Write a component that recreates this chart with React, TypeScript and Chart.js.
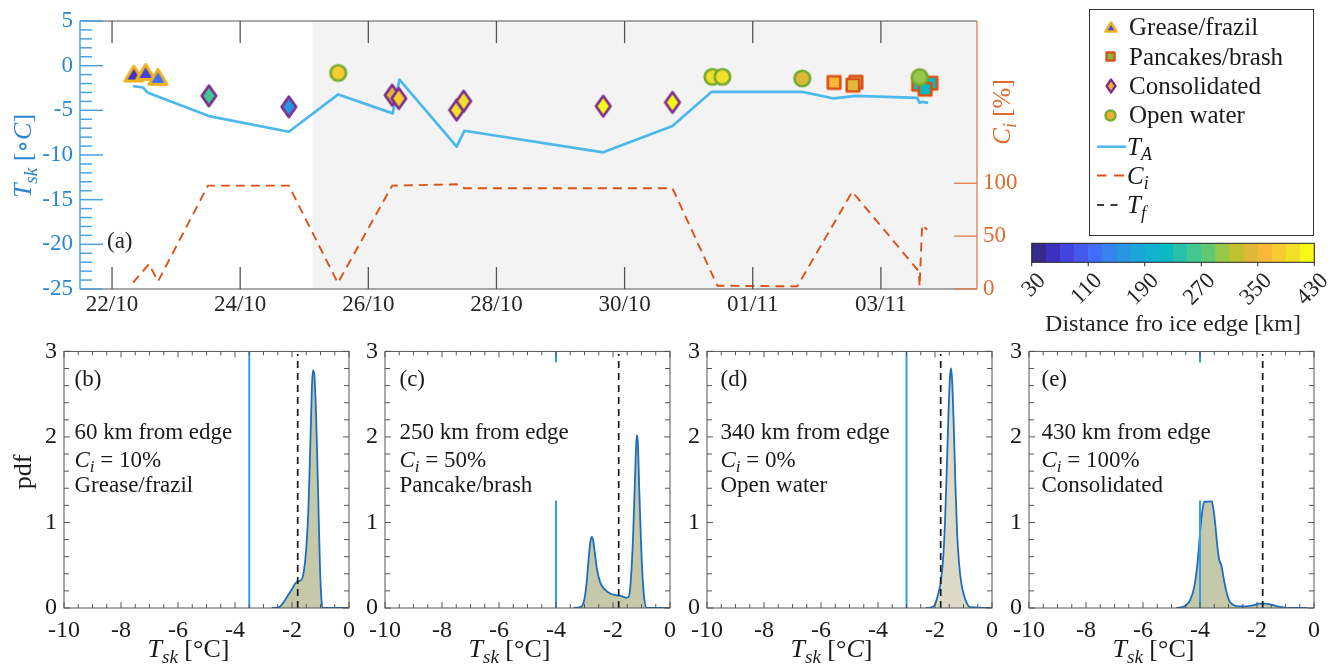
import React, { useEffect, useRef } from 'react';
import { Chart, registerables } from 'chart.js';
Chart.register(...registerables);

const SERIF = '"Liberation Serif", "DejaVu Serif", "Times New Roman", serif';

// ---------------- panel (a) data ----------------
const DATE_TICKS = [22, 24, 26, 28, 30, 32, 34];
const DATE_LABELS = ['22/10', '24/10', '26/10', '28/10', '30/10', '01/11', '03/11'];
const TSK_TICKS = [-25, -20, -15, -10, -5, 0, 5];
const CI_TICKS = [0, 50, 100];
const SHADE_START = 25.13;

const TA_DAY = [22.327, 22.483, 22.561, 23.512, 24.76, 25.53, 26.381, 26.486, 27.379, 27.499, 29.666, 30.747, 31.358, 32.773, 33.267, 33.606, 34.567, 34.604, 34.644, 34.738];
const TA_VAL = [-2.29, -2.44, -3.04, -5.64, -7.4, -3.22, -5.34, -1.55, -9.07, -7.29, -9.7, -6.76, -2.93, -2.93, -3.67, -3.38, -3.6, -4.16, -4.05, -4.16];

const CI_DAY = [22.327, 22.577, 22.717, 23.497, 24.76, 25.524, 26.372, 27.379, 27.499, 30.747, 31.448, 32.695, 33.553, 34.593, 34.604, 34.644, 34.722];
const CI_VAL = [6, 23.6, 7.2, 97.7, 97.7, 5.7, 97.7, 99, 95.3, 95.3, 3.1, 2.5, 92, 16.6, 2.5, 60.7, 56];

const GREASE_DAY = [22.34, 22.525, 22.717];
const GREASE_TSK = [-0.88, -0.7, -1.25];
const GREASE_DIST = [65, 75, 110];

const PANCAKE_DAY = [33.27, 33.61, 33.564, 34.59, 34.78, 34.69];
const PANCAKE_TSK = [-1.88, -1.85, -2.18, -2.07, -1.96, -2.63];
const PANCAKE_DIST = [360, 340, 340, 215, 215, 215];

const CONSOL_DAY = [23.512, 24.76, 26.372, 26.476, 27.379, 27.488, 29.666, 30.747];
const CONSOL_TSK = [-3.38, -4.61, -3.3, -3.67, -4.97, -3.97, -4.53, -4.11];
const CONSOL_DIST = [255, 165, 345, 375, 395, 395, 425, 425];

const OPEN_DAY = [25.53, 31.37, 31.526, 32.773, 34.606];
const OPEN_TSK = [-0.81, -1.25, -1.25, -1.43, -1.28];
const OPEN_DIST = [385, 400, 400, 340, 305];

const DIST_MIN = 30;
const DIST_MAX = 430;
const CBAR_TICKS = [30, 110, 190, 270, 350, 430];
const CBAR_COLORS = ['#352a8a', '#3b30c0', '#4343e0', '#4558f0', '#3f6ef8', '#3484f0', '#2896e0', '#1aa6d8', '#10b2d0', '#0abac0', '#28c0a8', '#40c890', '#60c870', '#98c848', '#c0c030', '#e0b838', '#f8b838', '#f8cc30', '#f0e028', '#f8f818'];

// ---------------- panels (b)-(e) data ----------------
const PDF_XTICKS = [-10, -8, -6, -4, -2, 0];
const PDF_YTICKS = [0, 1, 2, 3];
const PANEL_TAGS = ['(b)', '(c)', '(d)', '(e)'];
const PANEL_DIST_TEXT = ['60 km from edge', '250 km from edge', '340 km from edge', '430 km from edge'];
const PANEL_CI_TEXT = ['10%', '50%', '0%', '100%'];
const PANEL_TYPE = ['Grease/frazil', 'Pancake/brash', 'Open water', 'Consolidated'];
const PANEL_TA = [-3.5, -4, -3, -4];
const PANEL_TF = [-1.8, -1.8, -1.8, -1.8];

const PDF_B_X = [-2.71, -2.45, -2.27, -2.1, -2.0, -1.9, -1.81, -1.7, -1.6, -1.5, -1.42, -1.35, -1.3, -1.26, -1.21, -1.15, -1.08, -1.02, -0.97, -0.93, 0];
const PDF_B_Y = [0, 0.01, 0.08, 0.17, 0.22, 0.28, 0.31, 0.32, 0.4, 0.7, 1.2, 2.0, 2.6, 2.78, 2.7, 2.2, 1.3, 0.5, 0.12, 0, 0];
const PDF_C_X = [-3.38, -3.15, -3.02, -2.94, -2.86, -2.8, -2.75, -2.7, -2.64, -2.56, -2.45, -2.3, -2.1, -1.9, -1.7, -1.55, -1.45, -1.38, -1.3, -1.22, -1.17, -1.13, -1.08, -1.02, -0.96, -0.9, -0.82, 0];
const PDF_C_Y = [0, 0.01, 0.08, 0.25, 0.55, 0.76, 0.83, 0.8, 0.65, 0.45, 0.3, 0.22, 0.17, 0.15, 0.14, 0.12, 0.13, 0.3, 0.8, 1.6, 2.02, 1.95, 1.4, 0.8, 0.35, 0.1, 0, 0];
const PDF_D_X = [-2.33, -2.1, -2.0, -1.9, -1.8, -1.72, -1.65, -1.58, -1.52, -1.47, -1.43, -1.39, -1.34, -1.28, -1.22, -1.15, -1.08, -1.0, -0.9, -0.77, 0];
const PDF_D_Y = [0, 0.01, 0.04, 0.15, 0.3, 0.55, 1.0, 1.7, 2.35, 2.72, 2.8, 2.6, 2.1, 1.4, 0.85, 0.5, 0.3, 0.17, 0.07, 0.01, 0];
const PDF_E_X = [-4.84, -4.55, -4.35, -4.2, -4.08, -3.98, -3.9, -3.84, -3.78, -3.72, -3.66, -3.6, -3.54, -3.47, -3.4, -3.33, -3.25, -3.17, -3.08, -2.98, -2.85, -2.65, -2.4, -2.15, -1.9, -1.7, -1.5, -1.3, -1.1, -0.95, -0.23];
const PDF_E_Y = [0, 0.02, 0.09, 0.25, 0.55, 0.95, 1.18, 1.25, 1.24, 1.25, 1.24, 1.26, 1.18, 1.0, 0.75, 0.57, 0.5, 0.35, 0.2, 0.09, 0.04, 0.02, 0.02, 0.03, 0.05, 0.05, 0.04, 0.02, 0.01, 0, 0];
const PDF_X = [PDF_B_X, PDF_C_X, PDF_D_X, PDF_E_X];
const PDF_Y = [PDF_B_Y, PDF_C_Y, PDF_D_Y, PDF_E_Y];

// ---------------- styling / layout ----------------
const BLUE_TXT = '#2b86d2';
const BLUE_AX = '#4aa2e2';
const ORANGE_TXT = '#dd6a2e';
const ORANGE_AX = '#e37a45';
const TA_COLOR = '#4cb8ec';
const CI_COLOR = '#D95319';
const EDGE_TRI = '#EDB120';
const EDGE_SQ = '#D95319';
const EDGE_DIA = '#7E2F8E';
const EDGE_CIRC = '#77AC30';
const PANEL_LEFT = [64, 385, 707, 1029];
const PANEL_TXT_OFF = [10.5, 14.5, 13.5, 12.5];
const PDF_FILL = ['rgba(178,181,140,0.75)', 'rgba(178,181,140,0.75)', 'rgba(200,196,165,0.62)', 'rgba(178,181,140,0.75)'];

type Part = { t: string; it?: boolean; sub?: boolean };
function partFont(p: Part, size: number) {
  const s = p.sub ? Math.round(size * 0.72) : size;
  return `${p.it ? 'italic ' : ''}${s}px ${SERIF}`;
}
function richWidth(ctx: CanvasRenderingContext2D, parts: Part[], size: number) {
  let w = 0;
  for (const p of parts) { ctx.font = partFont(p, size); w += ctx.measureText(p.t).width; }
  return w;
}
function drawRich(ctx: CanvasRenderingContext2D, parts: Part[], x: number, y: number, size: number, align = 'left') {
  const w = richWidth(ctx, parts, size);
  let cx = align === 'center' ? x - w / 2 : align === 'right' ? x - w : x;
  ctx.textAlign = 'left';
  ctx.textBaseline = 'alphabetic';
  for (const p of parts) {
    ctx.font = partFont(p, size);
    ctx.fillText(p.t, cx, p.sub ? y + size * 0.22 : y);
    cx += ctx.measureText(p.t).width;
  }
  return w;
}

function distColor(d: number) {
  const n = CBAR_COLORS.length;
  const k = Math.max(0, Math.min(n - 1, Math.floor(((d - DIST_MIN) / (DIST_MAX - DIST_MIN)) * n)));
  return CBAR_COLORS[k];
}

function makeMarker(shape: string, fill: string, edge: string, w: number, h: number, lw: number) {
  const c = document.createElement('canvas');
  const W = Math.ceil(w + lw + 2);
  const H = Math.ceil(h + lw + 2);
  c.width = W; c.height = H;
  const g = c.getContext('2d') as CanvasRenderingContext2D;
  const cx = W / 2, cy = H / 2;
  g.beginPath();
  if (shape === 'tri') {
    g.moveTo(cx, cy - h / 2); g.lineTo(cx + w / 2, cy + h / 2); g.lineTo(cx - w / 2, cy + h / 2); g.closePath();
  } else if (shape === 'dia') {
    g.moveTo(cx, cy - h / 2); g.lineTo(cx + w / 2, cy); g.lineTo(cx, cy + h / 2); g.lineTo(cx - w / 2, cy); g.closePath();
  } else if (shape === 'sq') {
    g.rect(cx - w / 2, cy - h / 2, w, h);
  } else {
    g.arc(cx, cy, w / 2, 0, Math.PI * 2);
  }
  g.fillStyle = fill; g.fill();
  g.lineWidth = lw; g.strokeStyle = edge; g.lineJoin = 'round'; g.stroke();
  return c;
}

const SHAPES: any = {
  tri: { w: 18, h: 15, lw: 3, edge: EDGE_TRI },
  sq: { w: 12.5, h: 12.5, lw: 2.7, edge: EDGE_SQ },
  dia: { w: 14.5, h: 20.5, lw: 2.7, edge: EDGE_DIA },
  circ: { w: 15.5, h: 15.5, lw: 2.7, edge: EDGE_CIRC },
};

function markerDataset(shape: string, days: number[], vals: number[], dists: number[], order: number) {
  const s = SHAPES[shape];
  const imgs = dists.map((d) => makeMarker(shape, distColor(d), s.edge, s.w, s.h, s.lw));
  return {
    type: 'scatter',
    data: days.map((d, i) => ({ x: d, y: vals[i] })),
    yAxisID: 'y',
    pointStyle: (c: any) => imgs[c.dataIndex],
    pointRadius: 8,
    showLine: false,
    order,
  };
}

function seg(ctx: CanvasRenderingContext2D, x1: number, y1: number, x2: number, y2: number) {
  ctx.beginPath(); ctx.moveTo(x1, y1); ctx.lineTo(x2, y2); ctx.stroke();
}

const topDecor = {
  id: 'topDecor',
  beforeDatasetsDraw(chart: any) {
    const { ctx, chartArea: a, scales } = chart;
    const xs = scales.x.getPixelForValue(SHADE_START);
    ctx.save();
    ctx.fillStyle = '#f3f3f3';
    ctx.fillRect(xs, a.top, a.right - xs, a.bottom - a.top);
    ctx.restore();
  },
  afterDraw(chart: any) {
    const { ctx, chartArea: a, scales } = chart;
    const x = scales.x, y = scales.y, yR = scales.yR;
    ctx.save();
    ctx.lineCap = 'butt';
    ctx.strokeStyle = '#555555'; ctx.lineWidth = 1.3;
    DATE_TICKS.forEach((v) => {
      const px = x.getPixelForValue(v);
      seg(ctx, px, a.top, px, a.top + 22);
      seg(ctx, px, a.bottom, px, a.bottom - 22);
    });
    ctx.lineWidth = 1.2;
    seg(ctx, a.left, a.top, a.right, a.top);
    seg(ctx, a.left, a.bottom, a.right, a.bottom);
    ctx.strokeStyle = BLUE_AX; ctx.lineWidth = 1.5;
    seg(ctx, a.left, a.top, a.left, a.bottom);
    for (let v = y.min; v <= y.max; v += 1) {
      const py = y.getPixelForValue(v);
      seg(ctx, a.left, py, a.left + (TSK_TICKS.includes(v) ? 23 : 12), py);
    }
    ctx.strokeStyle = ORANGE_AX; ctx.lineWidth = 1.3;
    seg(ctx, a.right, a.top, a.right, a.bottom);
    CI_TICKS.forEach((v) => {
      const py = yR.getPixelForValue(v);
      seg(ctx, a.right, py, a.right - 23, py);
    });

    // panel tag
    ctx.fillStyle = '#262626';
    drawRich(ctx, [{ t: '(a)' }], a.left + 27, 248, 23);

    // axis titles
    ctx.save();
    ctx.translate(31, 156); ctx.rotate(-Math.PI / 2);
    ctx.fillStyle = BLUE_TXT;
    drawRich(ctx, [{ t: 'T', it: true }, { t: 'sk', it: true, sub: true }, { t: ' [\u2218' }, { t: 'C', it: true }, { t: ']' }], 0, 0, 26, 'center');
    ctx.restore();
    ctx.save();
    ctx.translate(1010, 112); ctx.rotate(-Math.PI / 2);
    ctx.fillStyle = ORANGE_TXT;
    drawRich(ctx, [{ t: 'C', it: true }, { t: 'i', it: true, sub: true }, { t: ' [%]' }], 0, 0, 25, 'center');
    ctx.restore();

    // legend
    const L0 = 1089.5, T0 = 9.5, L1 = 1313.5, T1 = 235.5;
    ctx.fillStyle = '#ffffff';
    ctx.fillRect(L0, T0, L1 - L0, T1 - T0);
    ctx.strokeStyle = '#333333'; ctx.lineWidth = 1;
    ctx.strokeRect(L0, T0, L1 - L0, T1 - T0);
    const mx = 1110.7, tx = 1129;
    const legMarkers = [
      makeMarker('tri', '#4848e0', EDGE_TRI, 11, 9, 2.4),
      makeMarker('sq', '#80c040', EDGE_SQ, 8, 8, 2.4),
      makeMarker('dia', '#f0b030', EDGE_DIA, 9, 13, 2.2),
      makeMarker('circ', '#f0b030', EDGE_CIRC, 10, 10, 2.4),
    ];
    const legNames = ['Grease/frazil', 'Pancakes/brash', 'Consolidated', 'Open water'];
    const legY = [26.7, 56.5, 85.5, 115, 146.7, 175.5, 205];
    ctx.fillStyle = '#1a1a1a';
    legMarkers.forEach((m, i) => {
      ctx.drawImage(m, Math.round(mx - m.width / 2), Math.round(legY[i] - m.height / 2));
      drawRich(ctx, [{ t: legNames[i] }], tx, legY[i] + 8, 25);
    });
    ctx.strokeStyle = TA_COLOR; ctx.lineWidth = 2.5;
    seg(ctx, 1097, legY[4], 1126, legY[4]);
    ctx.strokeStyle = CI_COLOR; ctx.lineWidth = 2;
    seg(ctx, 1097, legY[5], 1106.5, legY[5]); seg(ctx, 1114, legY[5], 1124, legY[5]);
    ctx.strokeStyle = '#1a1a1a'; ctx.lineWidth = 1.7;
    seg(ctx, 1097, legY[6], 1104, legY[6]); seg(ctx, 1110.5, legY[6], 1117.5, legY[6]);
    drawRich(ctx, [{ t: 'T', it: true }, { t: 'A', it: true, sub: true }], tx - 2, legY[4] + 8, 25);
    drawRich(ctx, [{ t: 'C', it: true }, { t: 'i', it: true, sub: true }], tx - 2, legY[5] + 8, 25);
    drawRich(ctx, [{ t: 'T', it: true }, { t: 'f', it: true, sub: true }], tx - 2, legY[6] + 8, 25);

    // colorbar
    const cbL = 1031.7, cbR = 1314.3, cbT = 243.3, cbB = 262.3;
    const n = CBAR_COLORS.length, cw = (cbR - cbL) / n;
    CBAR_COLORS.forEach((c, k) => {
      ctx.fillStyle = c;
      ctx.fillRect(cbL + k * cw, cbT, cw + 0.6, cbB - cbT);
    });
    ctx.strokeStyle = '#262626'; ctx.lineWidth = 1;
    ctx.strokeRect(cbL, cbT, cbR - cbL, cbB - cbT);
    ctx.fillStyle = '#262626';
    CBAR_TICKS.forEach((v) => {
      const px = cbL + ((v - DIST_MIN) / (DIST_MAX - DIST_MIN)) * (cbR - cbL);
      seg(ctx, px, cbB, px, cbB + 4);
      ctx.save();
      ctx.translate(px + 10.5, cbB + 15);
      ctx.rotate(-Math.PI / 4);
      ctx.font = `23px ${SERIF}`;
      ctx.textAlign = 'right'; ctx.textBaseline = 'middle';
      ctx.fillText(String(v), 0, 0);
      ctx.restore();
    });
    drawRich(ctx, [{ t: 'Distance fro ice edge [km]' }], 1173, 331, 24, 'center');
    ctx.restore();
  },
};

function topConfig(): any {
  return {
    type: 'scatter',
    data: {
      datasets: [
        markerDataset('circ', OPEN_DAY, OPEN_TSK, OPEN_DIST, 0),
        markerDataset('dia', CONSOL_DAY, CONSOL_TSK, CONSOL_DIST, 1),
        markerDataset('sq', PANCAKE_DAY, PANCAKE_TSK, PANCAKE_DIST, 2),
        markerDataset('tri', GREASE_DAY, GREASE_TSK, GREASE_DIST, 3),
        {
          data: TA_DAY.map((d, i) => ({ x: d, y: TA_VAL[i] })),
          yAxisID: 'y', showLine: true, borderColor: TA_COLOR, borderWidth: 2.7,
          pointRadius: 0, tension: 0, borderJoinStyle: 'round', order: 4,
        },
        {
          data: CI_DAY.map((d, i) => ({ x: d, y: CI_VAL[i] })),
          yAxisID: 'yR', showLine: true, borderColor: CI_COLOR, borderWidth: 1.9,
          borderDash: [9, 6], pointRadius: 0, tension: 0, order: 5,
        },
      ],
    },
    options: {
      responsive: false, maintainAspectRatio: false, animation: false, events: [],
      layout: { padding: { top: 21, left: 0, right: 0, bottom: 0 } },
      plugins: { legend: { display: false }, tooltip: { enabled: false } },
      scales: {
        x: {
          type: 'linear', position: 'bottom', min: 21.5, max: 35.5,
          afterBuildTicks: (s: any) => { s.ticks = DATE_TICKS.map((v) => ({ value: v })); },
          afterFit: (s: any) => { s.height = 51; },
          grid: { display: false, drawTicks: false }, border: { display: false },
          ticks: {
            autoSkip: false, maxRotation: 0, minRotation: 0, padding: 2, color: '#262626',
            font: { family: SERIF, size: 23 },
            callback: (v: number) => DATE_LABELS[DATE_TICKS.indexOf(v)],
          },
        },
        y: {
          type: 'linear', position: 'left', min: -25, max: 5,
          afterBuildTicks: (s: any) => { s.ticks = TSK_TICKS.map((v) => ({ value: v })); },
          afterFit: (s: any) => { s.width = 80; },
          grid: { display: false, drawTicks: false }, border: { display: false },
          ticks: { padding: 7, color: BLUE_TXT, font: { family: SERIF, size: 23 }, callback: (v: number) => String(v) },
        },
        yR: {
          type: 'linear', position: 'right', min: 0, max: 253.4,
          afterBuildTicks: (s: any) => { s.ticks = CI_TICKS.map((v) => ({ value: v })); },
          afterFit: (s: any) => { s.width = 1338 - 977; },
          grid: { display: false, drawTicks: false }, border: { display: false },
          ticks: { padding: 6, color: ORANGE_TXT, font: { family: SERIF, size: 23 }, callback: (v: number) => String(v) },
        },
      },
    },
    plugins: [topDecor],
  };
}

function pdfDecor(i: number) {
  return {
    id: 'pdfDecor' + i,
    afterDatasetsDraw(chart: any) {
      const { ctx, chartArea: a } = chart;
      const size = 23;
      const L = a.left + PANEL_TXT_OFF[i];
      const lines: Part[][] = [
        [{ t: PANEL_DIST_TEXT[i] }],
        [{ t: 'C', it: true }, { t: 'i', it: true, sub: true }, { t: ' = ' + PANEL_CI_TEXT[i] }],
        [{ t: PANEL_TYPE[i] }],
      ];
      ctx.save();
      let wmax = 0;
      lines.forEach((p) => { wmax = Math.max(wmax, richWidth(ctx, p, size)); });
      const base = [a.top + 88, a.top + 116, a.top + 141];
      ctx.fillStyle = '#ffffff';
      ctx.fillRect(L - 3, a.top + 11, wmax + 6, base[2] + 8 - (a.top + 11));
      ctx.fillStyle = '#1a1a1a';
      drawRich(ctx, [{ t: PANEL_TAGS[i] }], L, a.top + 35, size);
      lines.forEach((p, k) => drawRich(ctx, p, L, base[k], size));
      ctx.restore();
    },
    afterDraw(chart: any) {
      const { ctx, chartArea: a, scales } = chart;
      const x = scales.x, y = scales.y;
      ctx.save();
      ctx.strokeStyle = '#555555'; ctx.lineWidth = 1;
      for (let k = 0; k <= 20; k++) {
        const v = x.min + k * 0.5;
        const px = x.getPixelForValue(v);
        const len = PDF_XTICKS.includes(v) ? 6 : 4;
        seg(ctx, px, a.bottom, px, a.bottom - len);
        seg(ctx, px, a.top, px, a.top + len);
      }
      for (let k = 0; k <= 15; k++) {
        const v = y.min + k * 0.2;
        const py = y.getPixelForValue(v);
        const len = k % 5 === 0 ? 6 : 5;
        seg(ctx, a.left, py, a.left + len, py);
        seg(ctx, a.right, py, a.right - len, py);
      }
      ctx.strokeRect(a.left, a.top, a.right - a.left, a.bottom - a.top);
      ctx.fillStyle = '#1a1a1a';
      const cx = (a.left + a.right) / 2 - 18;
      const degC: Part[] = i === 2
        ? [{ t: ' [\u00b0' }, { t: 'C', it: true }, { t: ']' }]
        : [{ t: ' [\u00b0C]' }];
      drawRich(ctx, [{ t: 'T', it: true }, { t: 'sk', it: true, sub: true }, ...degC], cx, 327, 26, 'center');
      if (i === 0) {
        ctx.save();
        ctx.translate(31, 142); ctx.rotate(-Math.PI / 2);
        drawRich(ctx, [{ t: 'pdf' }], 0, 0, 26, 'center');
        ctx.restore();
      }
      ctx.restore();
    },
  };
}

function pdfConfig(i: number): any {
  const pts = PDF_X[i].map((xv, k) => ({ x: xv, y: PDF_Y[i][k] }));
  return {
    type: 'scatter',
    data: {
      datasets: [
        {
          data: [{ x: PANEL_TF[i], y: 0 }, { x: PANEL_TF[i], y: 2.97 }], showLine: true,
          borderColor: '#1a1a1a', borderWidth: 1.7, borderDash: [7, 5], pointRadius: 0, order: 0,
        },
        {
          data: [{ x: PANEL_TA[i], y: 0 }, { x: PANEL_TA[i], y: 3 }], showLine: true,
          borderColor: '#2f9ff0', borderWidth: 2, pointRadius: 0, order: 1,
        },
        {
          data: pts, showLine: true, fill: 'origin', backgroundColor: PDF_FILL[i],
          borderColor: '#1c6fbf', borderWidth: 1.8, pointRadius: 0,
          cubicInterpolationMode: 'monotone', order: 2,
        },
      ],
    },
    options: {
      responsive: false, maintainAspectRatio: false, animation: false, events: [],
      layout: { padding: { top: 15, left: 0, right: 10, bottom: 0 } },
      plugins: { legend: { display: false }, tooltip: { enabled: false } },
      scales: {
        x: {
          type: 'linear', min: -10, max: 0,
          afterBuildTicks: (s: any) => { s.ticks = PDF_XTICKS.map((v) => ({ value: v })); },
          afterFit: (s: any) => { s.height = 62; },
          grid: { display: false, drawTicks: false }, border: { display: false },
          ticks: { autoSkip: false, maxRotation: 0, padding: 8, color: '#1a1a1a', font: { family: SERIF, size: 24 }, callback: (v: number) => String(v) },
        },
        y: {
          type: 'linear', min: 0, max: 3,
          afterBuildTicks: (s: any) => { s.ticks = PDF_YTICKS.map((v) => ({ value: v })); },
          afterFit: (s: any) => { s.width = 64; },
          grid: { display: false, drawTicks: false }, border: { display: false },
          ticks: { padding: 7, color: '#1a1a1a', font: { family: SERIF, size: 24 }, callback: (v: number) => String(v) },
        },
      },
    },
    plugins: [pdfDecor(i)],
  };
}

export default function App() {
  const topRef = useRef<HTMLCanvasElement>(null);
  const r0 = useRef<HTMLCanvasElement>(null);
  const r1 = useRef<HTMLCanvasElement>(null);
  const r2 = useRef<HTMLCanvasElement>(null);
  const r3 = useRef<HTMLCanvasElement>(null);
  const refs = [r0, r1, r2, r3];
  useEffect(() => {
    const charts: Chart[] = [];
    charts.push(new Chart(topRef.current as HTMLCanvasElement, topConfig()));
    refs.forEach((r, i) => charts.push(new Chart(r.current as HTMLCanvasElement, pdfConfig(i))));
    return () => charts.forEach((c) => c.destroy());
  }, []);
  return (
    <div style={{ position: 'absolute', left: 0, top: 0, width: 1338, height: 670, background: '#ffffff', overflow: 'hidden' }}>
      <canvas ref={topRef} width={1338} height={340} style={{ position: 'absolute', left: 0, top: 0, width: 1338, height: 340 }} />
      {PANEL_LEFT.map((L, i) => (
        <canvas key={i} ref={refs[i]} width={363} height={340}
          style={{ position: 'absolute', left: L - 64, top: 330, width: 363, height: 340 }} />
      ))}
    </div>
  );
}
